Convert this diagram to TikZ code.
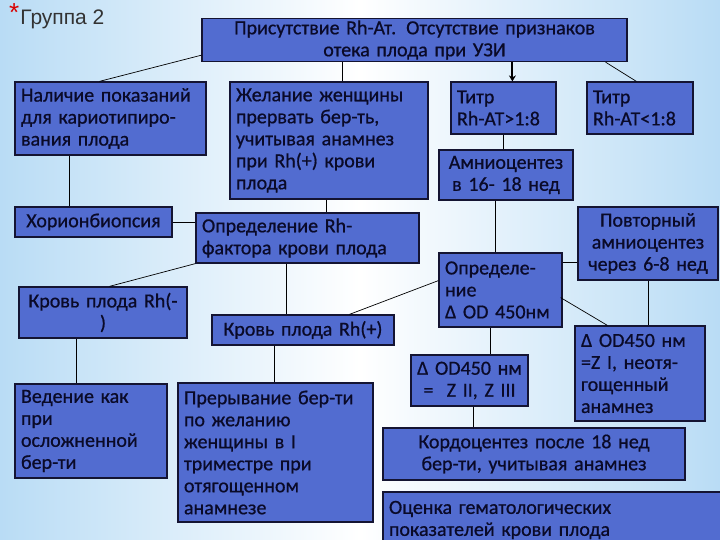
\documentclass[tikz,border=0pt]{standalone}
\usepackage{fontspec}
\setmainfont{Carlito}[RawFeature={embolden=0.7}]
\newfontfamily\titlefont{Liberation Sans}
\usetikzlibrary{calc,arrows.meta}
\definecolor{boxfill}{RGB}{82,108,208}
\definecolor{boxline}{RGB}{20,20,50}
\definecolor{txt}{RGB}{10,10,40}
\definecolor{bgblue}{RGB}{185,220,245}
\tikzset{
  box/.style={draw=boxline, fill=boxfill, line width=1.2pt, inner xsep=6pt, inner ysep=2pt,
    text=txt, font=\fontsize{20}{22}\selectfont},
  conn/.style={draw=black, line width=0.7pt},
  bigarrow/.style={draw=black, line width=2pt, -{Stealth[length=6pt,width=7pt]}}
}
\begin{document}
\begin{tikzpicture}[x=1pt,y=-1pt]
\clip (0,0) rectangle (720,540);
\shade[left color=bgblue, right color=bgblue, middle color=white] (0,0) rectangle (720,540);
\node[anchor=base west, font=\titlefont\fontsize{21}{24}\selectfont, text=black!80, inner sep=0pt] (title) at (9,25)
  {\textcolor{red!85!black}{\raisebox{3pt}{\fontsize{26}{26}\selectfont *}}\kern1pt Группа 2};
% boxes
\node[box, minimum width=425, minimum height=40, text width=413, align=center] (top) at (414.5,40)
  {Присутствие Rh-Ат. Отсутствие признаков\\отека плода при УЗИ};
\node[box, minimum width=191, minimum height=73, text width=179, align=left] (nal) at (110.5,118.5)
  {Наличие показаний\\для кариотипиро-\\вания плода};
\node[box, minimum width=198, minimum height=117, text width=186, align=left] (zhel) at (329,140.5)
  {Желание женщины\\прервать бер-ть,\\учитывая анамнез\\при Rh(+) крови\\плода};
\node[box, minimum width=105, minimum height=52, text width=93, align=left] (t1) at (503.5,108)
  {Титр\\Rh-АТ>1:8};
\node[box, minimum width=106, minimum height=52, text width=94, align=left] (t2) at (640,108)
  {Титр\\Rh-АТ<1:8};
\node[box, minimum width=134, minimum height=50, text width=122, align=center] (amn) at (506,175)
  {Амниоцентез\\в 16- 18 нед};
\node[box, minimum width=157, minimum height=30, text width=145, align=center] (hor) at (93.5,222)
  {Хорионбиопсия};
\node[box, minimum width=223, minimum height=50, text width=211, align=left] (oprh) at (307.5,238)
  {Определение Rh-\\фактора крови плода};
\node[box, minimum width=168, minimum height=51, text width=156, align=center] (krm) at (103,312.5)
  {Кровь плода Rh(-\\)};
\node[box, minimum width=182, minimum height=30, text width=170, align=center] (krp) at (303,330)
  {Кровь плода Rh(+)};
\node[box, minimum width=123, minimum height=74, text width=111, align=left] (opod) at (500.5,290)
  {Определе-\\ние\\Δ OD 450нм};
\node[box, minimum width=140, minimum height=73, text width=128, align=center] (povt) at (648,243.5)
  {Повторный\\амниоцентез\\через 6-8 нед};
\node[box, minimum width=130, minimum height=95, text width=118, align=left] (odz1) at (640,373.5)
  {Δ OD450 нм\\=Z I, неотя-\\гощенный\\анамнез};
\node[box, minimum width=117, minimum height=51, text width=105, align=center] (odz2) at (469.5,380.5)
  {Δ OD450 нм\\=~ Z II, Z III};
\node[box, minimum width=302, minimum height=52, text width=290, align=center] (kord) at (534,454)
  {Кордоцентез после 18 нед\\бер-ти, учитывая анамнез};
\node[box, minimum width=347, minimum height=56, text width=335, align=left] (ocen) at (556.5,520)
  {Оценка гематологических\\показателей крови плода};
\node[box, minimum width=152, minimum height=94, text width=140, align=left] (ved) at (91,431)
  {Ведение как\\при\\осложненной\\бер-ти};
\node[box, minimum width=195, minimum height=139, text width=183, align=left] (prer) at (275.5,452.5)
  {Прерывание бер-ти\\по желанию\\женщины в I\\триместре при\\отягощенном\\анамнезе};
% connectors
\draw[conn] ($(top.south west)+(0,-7)$) -- ($(nal.north west)+(85,0)$);
\draw[conn] ($(zhel.north west)+(113,0)$) coordinate (c1) -- (c1 |- top.south);
\draw[bigarrow] ($(t1.north west)+(62,0)$) coordinate (c2) (c2 |- top.south) -- (c2);
\draw[conn] ($(top.south east)+(-22,0)$) -- ($(t2.north west)+(50,0)$);
\draw[conn] (t1.south) -- (t1.south |- amn.north);
\draw[conn] ($(nal.south west)+(55,0)$) coordinate (c3) -- (c3 |- hor.north);
\draw[conn] (hor.east) -- (hor.east -| oprh.west);
\draw[conn] ($(zhel.south west)+(97,0)$) coordinate (c4) -- (c4 |- oprh.north);
\draw[conn] (oprh.south west) -- ($(krm.north west)+(91,0)$);
\draw[conn] ($(oprh.south west)+(91,0)$) coordinate (c5) -- (c5 |- krp.north);
\draw[conn] ($(krm.south west)+(58,0)$) coordinate (c6) -- (c6 |- ved.north);
\draw[conn] ($(krp.south west)+(63,0)$) coordinate (c7) -- (c7 |- prer.north);
\draw[conn] ($(amn.south west)+(57,0)$) coordinate (c8) -- (c8 |- opod.north);
\draw[conn] ($(krp.north west)+(138,0)$) -- ($(opod.south west)+(0,-47)$);
\draw[conn] ($(opod.north east)+(0,10)$) coordinate (c9) -- (c9 -| povt.west);
\draw[conn] ($(opod.south east)+(-2,-30)$) -- ($(odz1.north west)+(33,0)$);
\draw[conn] ($(povt.south west)+(71,0)$) coordinate (c10) -- (c10 |- odz1.north);
\draw[conn] ($(opod.south west)+(52,0)$) coordinate (c11) -- (c11 |- odz2.north);
\draw[conn] ($(odz2.south west)+(63,0)$) coordinate (c12) -- (c12 |- kord.north);
\end{tikzpicture}
\end{document}
